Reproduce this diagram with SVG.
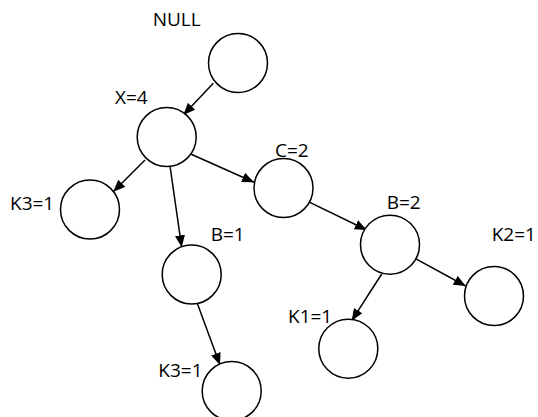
<svg xmlns="http://www.w3.org/2000/svg" width="538" height="417" viewBox="0 0 538 417">
<defs>
<marker id="ah" viewBox="0 0 12 10" refX="12" refY="5" markerWidth="12" markerHeight="10" markerUnits="userSpaceOnUse" orient="auto">
<path d="M0,0 L12,5 L0,10 Z" fill="#000"/>
</marker>
<style>
.n{fill:#fff;stroke:#000;stroke-width:1.5}
.e{stroke:#000;stroke-width:1.5;fill:none;marker-end:url(#ah)}
text{font-family:"Open Sans","Liberation Sans",sans-serif;font-size:19px;fill:#000}
</style>
</defs>
<rect width="538" height="417" fill="#fff"/>
<g id="connectors">
<line class="e" x1="213.3" y1="83.3" x2="183.3" y2="115"/>
<line class="e" x1="145" y1="160" x2="113.3" y2="191.7"/>
<line class="e" x1="170" y1="166" x2="181.7" y2="247.3"/>
<line class="e" x1="190.7" y1="154" x2="254" y2="182.3"/>
<line class="e" x1="308.3" y1="201.7" x2="366.7" y2="230"/>
<line class="e" x1="415" y1="258.3" x2="465.7" y2="286"/>
<line class="e" x1="381.7" y1="274" x2="351.7" y2="320.7"/>
<line class="e" x1="196.7" y1="301.7" x2="220" y2="365"/>
</g>
<g id="null"><circle class="n" cx="238" cy="63" r="29.5"/><text x="152.7" y="25.7">NULL</text></g>
<g id="x4"><circle class="n" cx="166.7" cy="137" r="29.5"/><text x="115" y="104">X=4</text></g>
<g id="k3a"><circle class="n" cx="90" cy="209.5" r="29.5"/><text x="10" y="210">K3=1</text></g>
<g id="c2"><circle class="n" cx="283.5" cy="188" r="29.5"/><text x="275" y="157">C=2</text></g>
<g id="b1"><circle class="n" cx="191.7" cy="274.5" r="29.5"/><text x="210.7" y="240.7">B=1</text></g>
<g id="k3b"><circle class="n" cx="231.7" cy="391" r="29.5"/><text x="158.3" y="376.7">K3=1</text></g>
<g id="b2"><circle class="n" cx="390" cy="244.7" r="29.5"/><text x="386.7" y="209.3">B=2</text></g>
<g id="k2"><circle class="n" cx="494" cy="296" r="29.5"/><text x="491.7" y="240.7">K2=1</text></g>
<g id="k1"><circle class="n" cx="348.3" cy="348.7" r="29.5"/><text x="288" y="323.3">K1=1</text></g>
</svg>
